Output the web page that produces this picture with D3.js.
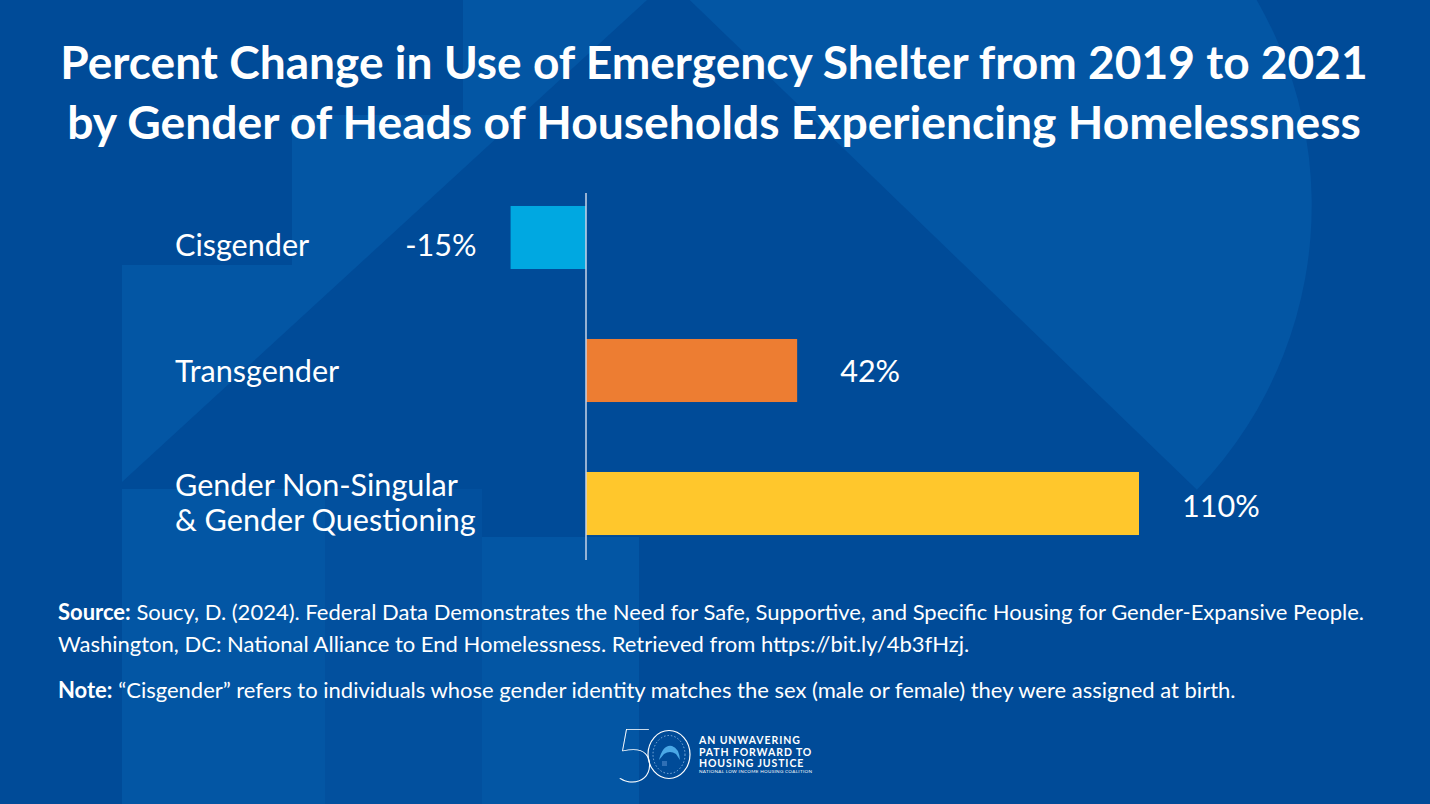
<!DOCTYPE html>
<html>
<head>
<meta charset="utf-8">
<script src="https://cdn.jsdelivr.net/npm/d3@7"></script>
<style>
  html, body { margin: 0; padding: 0; background: #004b98; }
  svg { display: block; }
  text { font-family: Lato, "Open Sans", sans-serif; fill: #fff; }
</style>
</head>
<body>
<div id="chart"></div>
<script>
  // ====== data ======
  const categories = ['Cisgender', 'Transgender', 'Gender Non-Singular\n& Gender Questioning'];
  const values = [-15, 42, 110];
  const valueLabels = ['-15%', '42%', '110%'];
  const barColors = ['#00a8e1', '#ed7d32', '#ffc72c'];

  const titleLines = [
    'Percent Change in Use of Emergency Shelter from 2019 to 2021',
    'by Gender of Heads of Households Experiencing Homelessness'
  ];
  const sourceLines = [
    ['Source:', ' Soucy, D. (2024). Federal Data Demonstrates the Need for Safe, Supportive, and Specific Housing for Gender-Expansive People.'],
    ['', 'Washington, DC: National Alliance to End Homelessness. Retrieved from https://bit.ly/4b3fHzj.'],
    ['Note:', ' \u201CCisgender\u201D refers to individuals whose gender identity matches the sex (male or female) they were assigned at birth.']
  ];
  const logoLines = ['AN UNWAVERING', 'PATH FORWARD TO', 'HOUSING JUSTICE'];

  const W = 1430, H = 804;
  const svg = d3.select('#chart').append('svg')
    .attr('width', W).attr('height', H);

  // scale a text element's font so it spans the target width
  function fitText(sel, target) {
    const fs = parseFloat(sel.attr('font-size'));
    const len = sel.node().getComputedTextLength();
    sel.attr('font-size', fs * target / len);
    return fs * target / len;
  }

  // ====== background ======
  const bg = svg.append('g');
  bg.append('rect').attr('width', W).attr('height', H).attr('fill', '#004b98');

  // half disc on the right
  bg.append('path')
    .attr('transform', 'translate(902,205)')
    .attr('d', d3.arc().innerRadius(0).outerRadius(410)
      .startAngle(-46 * Math.PI / 180).endAngle(134 * Math.PI / 180)())
    .attr('fill', '#0356a4');

  // stair shape on the left
  bg.append('path')
    .attr('d', d3.line()([[122, 265], [292, 265], [292, 115], [463, 115], [463, 0], [647, 0], [122, 482]]) + 'Z')
    .attr('fill', '#0356a4');

  bg.append('rect').attr('x', 122).attr('y', 489).attr('width', 203).attr('height', H - 489).attr('fill', '#0356a4');
  bg.append('rect').attr('x', 325).attr('y', 489).attr('width', 157).attr('height', H - 489).attr('fill', '#02509e');
  bg.append('rect').attr('x', 482).attr('y', 537).attr('width', 157).attr('height', H - 537).attr('fill', '#0356a4');

  // ====== title ======
  const titleBase = [79, 139];
  const titleWidths = [1308, 1294];
  titleLines.forEach((t, i) => {
    const el = svg.append('text')
      .attr('x', 714).attr('y', titleBase[i])
      .attr('text-anchor', 'middle')
      .attr('font-size', 46)
      .attr('font-weight', 700)
      .text(t);
    fitText(el, titleWidths[i]);
  });

  // ====== bars ======
  const x = d3.scaleLinear().domain([0, 110]).range([586, 1139]);
  const y = d3.scaleBand().domain(categories).range([171, 570])
    .paddingInner(0.526).paddingOuter(0.263);
  // text baseline offset from the bar middle, per row
  const textShift = [18.5, 11.5, 13.5];

  svg.append('g')
    .selectAll('rect')
    .data(values)
    .enter()
    .append('rect')
    .attr('x', d => x(Math.min(0, d)))
    .attr('y', (d, i) => y(categories[i]))
    .attr('width', d => Math.abs(x(d) - x(0)))
    .attr('height', y.bandwidth())
    .attr('fill', (d, i) => barColors[i]);

  // zero line
  svg.append('line')
    .attr('x1', x(0)).attr('x2', x(0))
    .attr('y1', 193).attr('y2', 560)
    .attr('stroke', '#c9d3e6').attr('stroke-width', 1.5);

  // category labels
  const labelG = svg.append('g');
  const probe = labelG.append('text').attr('font-size', 28).text('Gender Non-Singular');
  const labelSize = fitText(probe, 283);
  probe.remove();

  categories.forEach((c, i) => {
    const lines = c.split('\n');
    const mid = y(c) + y.bandwidth() / 2;
    const lh = 35;
    const el = labelG.append('text')
      .attr('font-size', labelSize);
    lines.forEach((l, j) => {
      el.append('tspan')
        .attr('x', 175)
        .attr('y', mid + (lines.length > 1 ? 10 : textShift[i]) + (j - (lines.length - 1) / 2) * lh)
        .text(l);
    });
  });

  // value labels
  svg.append('g')
    .selectAll('text')
    .data(values)
    .enter()
    .append('text')
    .attr('font-size', labelSize)
    .attr('x', d => d < 0 ? x(d) - 34 : x(d) + 43)
    .attr('y', (d, i) => y(categories[i]) + y.bandwidth() / 2 + textShift[i])
    .attr('text-anchor', d => d < 0 ? 'end' : 'start')
    .text((d, i) => valueLabels[i]);

  // ====== source / note ======
  const srcBase = [620, 652, 698];
  const footEls = sourceLines.map((s, i) => {
    const el = svg.append('text')
      .attr('x', 58).attr('y', srcBase[i])
      .attr('font-size', 21);
    if (s[0]) el.append('tspan').attr('font-weight', 700).text(s[0]);
    el.append('tspan').text(s[1]);
    return el;
  });
  // size footer from the first line width
  const footSize = fitText(footEls[0], 1307);
  footEls.forEach(el => el.attr('font-size', footSize));

  // ====== logo ======
  const logo = svg.append('g');
  logo.append('text')
    .attr('x', 613).attr('y', 782)
    .attr('font-family', 'Roboto, Lato, sans-serif')
    .attr('font-weight', 100)
    .attr('font-size', 76)
    .text('5');
  logo.append('ellipse')
    .attr('cx', 669).attr('cy', 754.5).attr('rx', 21).attr('ry', 24)
    .attr('fill', 'none').attr('stroke', '#fff').attr('stroke-width', 1.2);
  logo.append('ellipse')
    .attr('cx', 669).attr('cy', 754.5).attr('rx', 16).attr('ry', 19)
    .attr('fill', 'none').attr('stroke', '#9fc4ea').attr('stroke-width', 0.8)
    .attr('stroke-dasharray', '1.5 2');
  logo.append('path')
    .attr('d', 'M659,760 Q663,744 672,746 Q679,748 680,760 L676,754 Q670,750 664,754 Z')
    .attr('fill', '#4aa8e6');
  logo.append('rect').attr('x', 662).attr('y', 761).attr('width', 5).attr('height', 5).attr('fill', '#2f6fb5');

  logoLines.forEach((t, i) => {
    logo.append('text')
      .attr('x', 699).attr('y', 744 + i * 11.7)
      .attr('font-size', 10.5)
      .attr('font-weight', 700)
      .attr('letter-spacing', 0.9)
      .text(t);
  });
  logo.append('text')
    .attr('x', 699).attr('y', 773)
    .attr('font-size', 4.6)
    .attr('letter-spacing', 0.3)
    .attr('fill', '#c9d8ee')
    .text('NATIONAL LOW INCOME HOUSING COALITION');
</script>
</body>
</html>
